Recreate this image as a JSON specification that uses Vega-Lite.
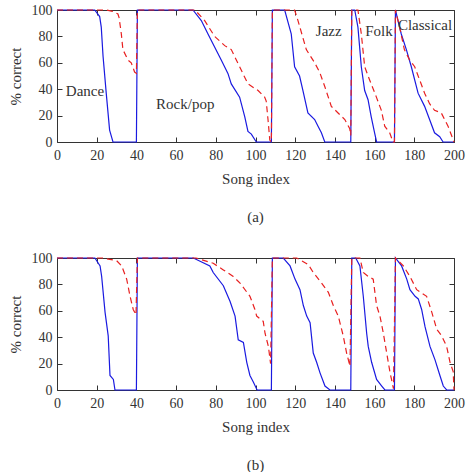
{
  "$schema": "https://vega.github.io/schema/vega-lite/v6.json",
  "padding": {"left": 8, "top": 3, "right": 6, "bottom": 0},
  "spacing": 26,
  "config": {
    "font": "Liberation Serif",
    "view": {"stroke": null},
    "axis": {
      "grid": false,
      "domainColor": "#333333",
      "tickColor": "#333333",
      "labelColor": "#333333",
      "titleColor": "#333333",
      "labelFont": "Liberation Serif",
      "titleFont": "Liberation Serif",
      "labelFontSize": 14,
      "titleFontSize": 15,
      "titleFontWeight": "normal",
      "labelFlush": false,
      "tickSize": -5,
      "domainWidth": 1,
      "tickWidth": 1
    },
    "title": {"font": "Liberation Serif", "fontSize": 15, "fontWeight": "normal", "color": "#333333"}
  },
  "datasets": {
    "a_solid": [
      {"song": 0, "pct": 100}, {"song": 19, "pct": 100}, {"song": 21.5, "pct": 95}, {"song": 22.3, "pct": 87},
      {"song": 23.2, "pct": 65}, {"song": 24.8, "pct": 37}, {"song": 26.5, "pct": 9}, {"song": 28.2, "pct": 0},
      {"song": 40, "pct": 0}, {"song": 40.5, "pct": 100}, {"song": 68.5, "pct": 100}, {"song": 72.7, "pct": 92},
      {"song": 76, "pct": 82}, {"song": 79.4, "pct": 72}, {"song": 82.8, "pct": 62}, {"song": 86.1, "pct": 52},
      {"song": 87.8, "pct": 44}, {"song": 92, "pct": 34}, {"song": 94.6, "pct": 19}, {"song": 96.2, "pct": 8},
      {"song": 97.9, "pct": 6}, {"song": 100.4, "pct": 0}, {"song": 108, "pct": 0}, {"song": 108.5, "pct": 100},
      {"song": 114.7, "pct": 100}, {"song": 118, "pct": 82}, {"song": 119.7, "pct": 57}, {"song": 122.2, "pct": 50},
      {"song": 123.9, "pct": 39}, {"song": 126.4, "pct": 22}, {"song": 129.8, "pct": 17}, {"song": 131.5, "pct": 12},
      {"song": 133.2, "pct": 7}, {"song": 134.9, "pct": 0}, {"song": 148, "pct": 0}, {"song": 148.5, "pct": 100},
      {"song": 150, "pct": 100}, {"song": 151.6, "pct": 87}, {"song": 153.3, "pct": 57}, {"song": 155, "pct": 39},
      {"song": 156.7, "pct": 32}, {"song": 158.3, "pct": 19}, {"song": 160, "pct": 7}, {"song": 161, "pct": 0},
      {"song": 170, "pct": 0}, {"song": 170.5, "pct": 100}, {"song": 172.1, "pct": 90}, {"song": 173.4, "pct": 82},
      {"song": 176, "pct": 70}, {"song": 178.5, "pct": 57}, {"song": 181.9, "pct": 37}, {"song": 185.2, "pct": 27},
      {"song": 187.7, "pct": 17}, {"song": 190.2, "pct": 7}, {"song": 192.8, "pct": 4}, {"song": 194.5, "pct": 0},
      {"song": 200, "pct": 0}
    ],
    "a_dashed": [
      {"song": 0, "pct": 100}, {"song": 24.8, "pct": 100}, {"song": 28, "pct": 99}, {"song": 30.7, "pct": 97},
      {"song": 31.3, "pct": 94}, {"song": 32.4, "pct": 82}, {"song": 33.2, "pct": 70}, {"song": 35.8, "pct": 62},
      {"song": 37.4, "pct": 60}, {"song": 39.1, "pct": 53}, {"song": 40, "pct": 52}, {"song": 40.5, "pct": 100},
      {"song": 69.5, "pct": 100}, {"song": 74.4, "pct": 92}, {"song": 79.4, "pct": 80}, {"song": 84.5, "pct": 73},
      {"song": 87.8, "pct": 70}, {"song": 92, "pct": 57}, {"song": 96.2, "pct": 44}, {"song": 101.3, "pct": 39},
      {"song": 104.6, "pct": 34}, {"song": 105.4, "pct": 31}, {"song": 106.3, "pct": 17}, {"song": 107.2, "pct": 1.5},
      {"song": 108, "pct": 0}, {"song": 108.5, "pct": 100}, {"song": 119.7, "pct": 100}, {"song": 121.4, "pct": 92},
      {"song": 125.6, "pct": 70}, {"song": 129.8, "pct": 60}, {"song": 132.3, "pct": 53}, {"song": 134.9, "pct": 42},
      {"song": 138.2, "pct": 27}, {"song": 141.6, "pct": 22}, {"song": 145, "pct": 17}, {"song": 147.5, "pct": 10},
      {"song": 148, "pct": 5}, {"song": 148.5, "pct": 100}, {"song": 151.6, "pct": 100}, {"song": 153.3, "pct": 82},
      {"song": 155, "pct": 57}, {"song": 157.5, "pct": 47}, {"song": 160.9, "pct": 34}, {"song": 163.4, "pct": 24},
      {"song": 165.1, "pct": 12}, {"song": 167.6, "pct": 7}, {"song": 169.3, "pct": 0}, {"song": 170, "pct": 0},
      {"song": 170.5, "pct": 100}, {"song": 172.6, "pct": 87}, {"song": 175, "pct": 70}, {"song": 177.7, "pct": 62},
      {"song": 180.2, "pct": 57}, {"song": 182.7, "pct": 47}, {"song": 185.2, "pct": 37}, {"song": 187.7, "pct": 29},
      {"song": 190.2, "pct": 24}, {"song": 193.6, "pct": 22}, {"song": 197, "pct": 12}, {"song": 200, "pct": 0}
    ],
    "a_genres": [
      {"genre": "Dance", "song": 14.1, "pct": 39},
      {"genre": "Rock/pop", "song": 64.6, "pct": 29},
      {"genre": "Jazz", "song": 136.9, "pct": 84},
      {"genre": "Folk", "song": 162.2, "pct": 84},
      {"genre": "Classical", "song": 185.4, "pct": 88.5}
    ],
    "b_solid": [
      {"song": 0, "pct": 100}, {"song": 19.1, "pct": 100}, {"song": 21.7, "pct": 94}, {"song": 22.5, "pct": 86},
      {"song": 24.2, "pct": 59}, {"song": 25.8, "pct": 41}, {"song": 26.7, "pct": 11}, {"song": 28.4, "pct": 8},
      {"song": 29.2, "pct": 0}, {"song": 40, "pct": 0}, {"song": 40.5, "pct": 100}, {"song": 68.7, "pct": 100},
      {"song": 77, "pct": 94}, {"song": 78.7, "pct": 89}, {"song": 83.8, "pct": 79}, {"song": 87.2, "pct": 67},
      {"song": 89.7, "pct": 56}, {"song": 91.3, "pct": 38}, {"song": 93.9, "pct": 36}, {"song": 95.6, "pct": 21},
      {"song": 97.2, "pct": 11}, {"song": 98.9, "pct": 6}, {"song": 100.8, "pct": 0}, {"song": 108, "pct": 0},
      {"song": 108.5, "pct": 100}, {"song": 114, "pct": 100}, {"song": 117.4, "pct": 94}, {"song": 119.9, "pct": 84},
      {"song": 122.4, "pct": 76}, {"song": 124.1, "pct": 64}, {"song": 125.8, "pct": 56}, {"song": 127.5, "pct": 51},
      {"song": 129.1, "pct": 28}, {"song": 130.8, "pct": 21}, {"song": 132.5, "pct": 13}, {"song": 135, "pct": 3},
      {"song": 137.5, "pct": 0}, {"song": 148, "pct": 0}, {"song": 148.5, "pct": 100}, {"song": 150.5, "pct": 100},
      {"song": 152.6, "pct": 94}, {"song": 154.3, "pct": 71}, {"song": 156, "pct": 43}, {"song": 156.8, "pct": 33},
      {"song": 158.5, "pct": 21}, {"song": 161, "pct": 8}, {"song": 163.6, "pct": 3}, {"song": 165.2, "pct": 0},
      {"song": 170, "pct": 0}, {"song": 170.5, "pct": 100}, {"song": 173.6, "pct": 94}, {"song": 176.2, "pct": 84},
      {"song": 177.8, "pct": 76}, {"song": 180.4, "pct": 71}, {"song": 182, "pct": 69}, {"song": 183.7, "pct": 61},
      {"song": 185.4, "pct": 48}, {"song": 187.9, "pct": 33}, {"song": 190.4, "pct": 23}, {"song": 192.9, "pct": 11},
      {"song": 194.6, "pct": 3}, {"song": 196.3, "pct": 0}, {"song": 200, "pct": 0}
    ],
    "b_dashed": [
      {"song": 0, "pct": 100}, {"song": 23, "pct": 100}, {"song": 30, "pct": 98}, {"song": 32.6, "pct": 94},
      {"song": 35.1, "pct": 84}, {"song": 36.8, "pct": 71}, {"song": 38.4, "pct": 61}, {"song": 39.8, "pct": 57},
      {"song": 40.5, "pct": 100}, {"song": 70, "pct": 100}, {"song": 78.7, "pct": 96}, {"song": 83.8, "pct": 91},
      {"song": 88.8, "pct": 86}, {"song": 92.2, "pct": 81}, {"song": 97.2, "pct": 71}, {"song": 99.7, "pct": 61},
      {"song": 100.6, "pct": 56}, {"song": 103.9, "pct": 52}, {"song": 104.8, "pct": 43}, {"song": 106.5, "pct": 33},
      {"song": 107.6, "pct": 20}, {"song": 108.5, "pct": 100}, {"song": 120.8, "pct": 100}, {"song": 126.6, "pct": 95},
      {"song": 129.1, "pct": 89}, {"song": 133.3, "pct": 81}, {"song": 136.7, "pct": 74}, {"song": 139.2, "pct": 64},
      {"song": 141.7, "pct": 56}, {"song": 144.2, "pct": 41}, {"song": 145.9, "pct": 28}, {"song": 147.6, "pct": 18},
      {"song": 148.5, "pct": 100}, {"song": 152.6, "pct": 100}, {"song": 154.3, "pct": 89}, {"song": 156.8, "pct": 86},
      {"song": 159.3, "pct": 84}, {"song": 161, "pct": 64}, {"song": 162.7, "pct": 56}, {"song": 164.4, "pct": 43},
      {"song": 166.1, "pct": 28}, {"song": 167.8, "pct": 13}, {"song": 169.5, "pct": 1}, {"song": 170.5, "pct": 100},
      {"song": 174.5, "pct": 94}, {"song": 177.8, "pct": 86}, {"song": 181.2, "pct": 76}, {"song": 186.2, "pct": 71},
      {"song": 188.8, "pct": 59}, {"song": 191.3, "pct": 46}, {"song": 193.8, "pct": 41}, {"song": 196.3, "pct": 33},
      {"song": 198, "pct": 21}, {"song": 199.6, "pct": 14}, {"song": 200, "pct": 0}
    ]
  },
  "vconcat": [
    {
      "width": 397,
      "height": 132,
      "title": {"text": "(a)", "orient": "bottom", "offset": 24},
      "resolve": {"axis": {"x": "independent", "y": "independent"}},
      "layer": [
        {
          "data": {"name": "a_solid"},
          "mark": {"type": "line", "color": "#1a1ae0", "strokeWidth": 1.2},
          "encoding": {
            "x": {"field": "song", "type": "quantitative", "scale": {"domain": [0, 200], "nice": false},
                  "axis": {"title": "Song index", "values": [0, 20, 40, 60, 80, 100, 120, 140, 160, 180, 200], "labelPadding": 11, "titlePadding": 9}},
            "y": {"field": "pct", "type": "quantitative", "scale": {"domain": [0, 100], "nice": false},
                  "axis": {"title": "% correct", "values": [0, 20, 40, 60, 80, 100], "labelPadding": 10, "titlePadding": 8}},
            "order": {"value": null}
          }
        },
        {
          "data": {"name": "a_dashed"},
          "mark": {"type": "line", "color": "#e82020", "strokeWidth": 1.2, "strokeDash": [6, 4]},
          "encoding": {
            "x": {"field": "song", "type": "quantitative", "scale": {"domain": [0, 200], "nice": false},
                  "axis": {"orient": "top", "title": null, "labels": false, "values": [0, 20, 40, 60, 80, 100, 120, 140, 160, 180, 200]}},
            "y": {"field": "pct", "type": "quantitative", "scale": {"domain": [0, 100], "nice": false},
                  "axis": {"orient": "right", "title": null, "labels": false, "values": [0, 20, 40, 60, 80, 100]}},
            "order": {"value": null}
          }
        },
        {
          "data": {"name": "a_genres"},
          "mark": {"type": "text", "font": "Liberation Serif", "fontSize": 15, "color": "#333333"},
          "encoding": {
            "x": {"field": "song", "type": "quantitative", "axis": null},
            "y": {"field": "pct", "type": "quantitative", "axis": null},
            "text": {"field": "genre"}
          }
        }
      ]
    },
    {
      "width": 397,
      "height": 132,
      "title": {"text": "(b)", "orient": "bottom", "offset": 24},
      "resolve": {"axis": {"x": "independent", "y": "independent"}},
      "layer": [
        {
          "data": {"name": "b_solid"},
          "mark": {"type": "line", "color": "#1a1ae0", "strokeWidth": 1.2},
          "encoding": {
            "x": {"field": "song", "type": "quantitative", "scale": {"domain": [0, 200], "nice": false},
                  "axis": {"title": "Song index", "values": [0, 20, 40, 60, 80, 100, 120, 140, 160, 180, 200], "labelPadding": 11, "titlePadding": 9}},
            "y": {"field": "pct", "type": "quantitative", "scale": {"domain": [0, 100], "nice": false},
                  "axis": {"title": "% correct", "values": [0, 20, 40, 60, 80, 100], "labelPadding": 10, "titlePadding": 8}},
            "order": {"value": null}
          }
        },
        {
          "data": {"name": "b_dashed"},
          "mark": {"type": "line", "color": "#e82020", "strokeWidth": 1.2, "strokeDash": [6, 4]},
          "encoding": {
            "x": {"field": "song", "type": "quantitative", "scale": {"domain": [0, 200], "nice": false},
                  "axis": {"orient": "top", "title": null, "labels": false, "values": [0, 20, 40, 60, 80, 100, 120, 140, 160, 180, 200]}},
            "y": {"field": "pct", "type": "quantitative", "scale": {"domain": [0, 100], "nice": false},
                  "axis": {"orient": "right", "title": null, "labels": false, "values": [0, 20, 40, 60, 80, 100]}},
            "order": {"value": null}
          }
        }
      ]
    }
  ]
}
